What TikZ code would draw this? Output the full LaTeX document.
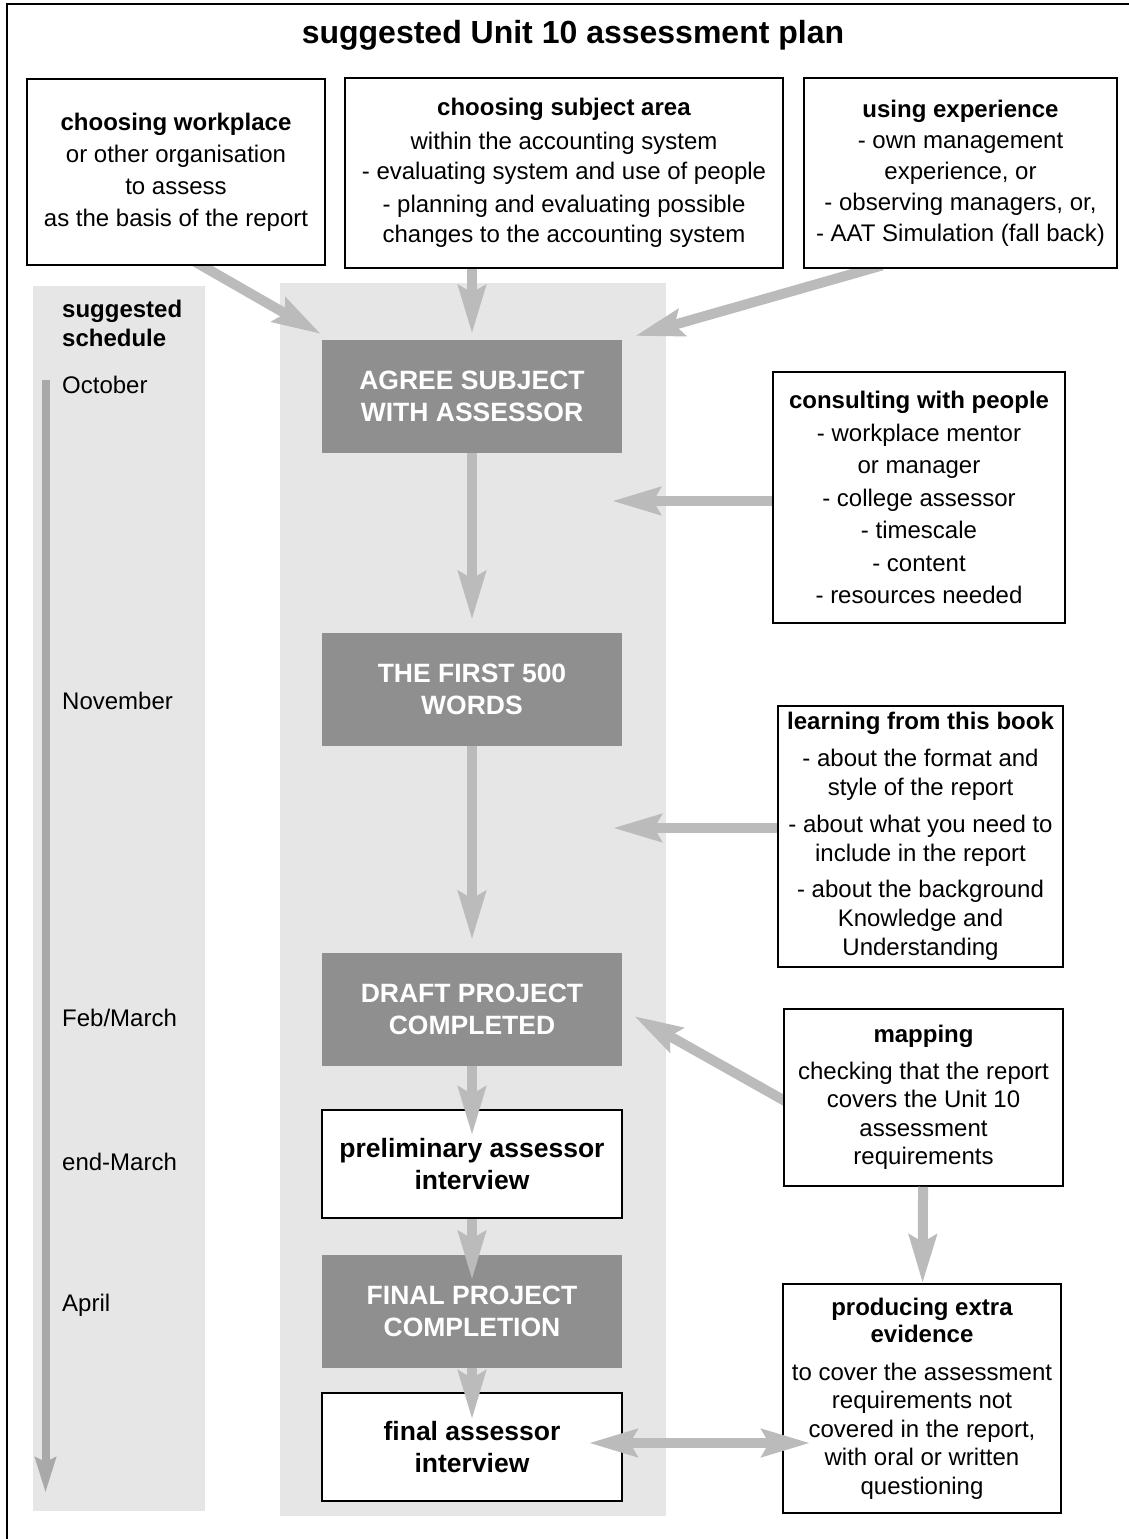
\documentclass[tikz,border=0pt]{standalone}
\usepackage{fontspec}
\setmainfont{Liberation Sans}
\usetikzlibrary{arrows.meta,calc}
\pgfdeclarelayer{back}
\pgfsetlayers{back,main}
\definecolor{panelgrey}{HTML}{E6E6E6}
\definecolor{stepgrey}{HTML}{8F8F8F}
\definecolor{arrowgrey}{HTML}{BBBBBB}
\definecolor{timegrey}{HTML}{A9A9A9}

\begin{document}
\begin{tikzpicture}[x=1pt, y=-1pt, font=\fontsize{24}{31}\selectfont,
		infobox/.style={draw=black, line width=1.5pt, fill=white, align=center, inner sep=0pt},
		stepbox/.style={fill=stepgrey, text=white, font=\fontsize{26.5}{32}\selectfont\bfseries, align=center, inner sep=0pt, minimum width=300pt, minimum height=113pt},
		talkbox/.style={stepbox, fill=white, text=black, draw=black, line width=1.5pt, minimum height=108pt},
		flow/.style={draw=arrowgrey, line width=10pt, -{Stealth[length=48pt, width=27pt, inset=7pt]}},
		both/.style={draw=arrowgrey, line width=10pt, {Stealth[length=48pt, width=27pt, inset=7pt]}-{Stealth[length=48pt, width=27pt, inset=7pt]}},
		month/.style={anchor=west, inner sep=0pt}]
		\def\cx{472}
		\useasboundingbox (0,0) rectangle (1128,1539);
		\draw[line width=1.5pt] (7,4) rectangle (1140,1560);
		\node[font=\fontsize{32}{38}\selectfont\bfseries, anchor=base, inner sep=0pt] (title) at (573,43) {suggested Unit 10 assessment plan};
		% grey columns
		\begin{pgfonlayer}{back}
			\fill[panelgrey] (33,286) rectangle (205,1511);
			\fill[panelgrey] (280,283) rectangle (666,1516);
		\end{pgfonlayer}
		% what goes in
		\node[infobox, minimum width=298pt, minimum height=186pt, font=\fontsize{24}{32}\selectfont] (work) at (176,172) {\textbf{choosing workplace}\\or other organisation\\to assess\\as the basis of the report};
		\node[infobox, minimum width=438pt, minimum height=190pt, font=\fontsize{24}{30}\selectfont] (subj) at (564,173) {\textbf{choosing subject area}\\[4pt]within the accounting system\\- evaluating system and use of people\\[3pt]- planning and evaluating possible\\changes to the accounting system};
		\node[infobox, minimum width=313pt, minimum height=190pt, font=\fontsize{24}{31}\selectfont] (exp) at (960.5,173) {\textbf{using experience}\\- own management\\experience, or\\- observing managers, or,\\- AAT Simulation (fall back)};
		\node[infobox, minimum width=292pt, minimum height=251pt, font=\fontsize{24}{32.5}\selectfont] (consult) at (919,497.5) {\textbf{consulting with people}\\- workplace mentor\\or manager\\- college assessor\\- timescale\\- content\\- resources needed};
		\node[infobox, minimum width=285pt, minimum height=261pt, font=\fontsize{24}{29}\selectfont] (learn) at (920.5,836.5) {\textbf{learning from this book}\\[8pt]- about the format and\\style of the report\\[8pt]- about what you need to\\include in the report\\[7pt]- about the background\\Knowledge and\\Understanding};
		\node[infobox, minimum width=279pt, minimum height=177pt, font=\fontsize{24}{28.5}\selectfont] (map) at (923.5,1097.5) {\textbf{mapping}\\[8pt]checking that the report\\covers the Unit 10\\assessment\\requirements};
		\node[infobox, minimum width=278pt, minimum height=229pt, font=\fontsize{24}{28.5}\selectfont] (prod) at (922,1398.5) {\textbf{producing extra}\\[-1pt]\textbf{evidence}\\[9pt]to cover the assessment\\requirements not\\covered in the report,\\with oral or written\\questioning};
		% main steps
		\node[stepbox] (agree) at (\cx,396.5) {AGREE SUBJECT\\WITH ASSESSOR};
		\node[stepbox] (first) at (\cx,689.5) {THE FIRST 500\\WORDS};
		\node[stepbox] (draft) at (\cx,1009.5) {DRAFT PROJECT\\COMPLETED};
		\node[talkbox] (prelim) at (\cx,1164) {preliminary assessor\\interview};
		\node[stepbox] (fproj) at (\cx,1311.5) {FINAL PROJECT\\COMPLETION};
		\node[talkbox] (fint) at (\cx,1447) {final assessor\\interview};
		% schedule
		\node[month, font=\fontsize{24}{29}\selectfont\bfseries, align=left] (sched) at (62,323) {suggested\\schedule};
		\node[month] (oct) at (62,385) {October};
		\node[month] (nov) at (62,701) {November};
		\node[month] (feb) at (62,1018) {Feb/March};
		\node[month] (endm) at (62,1162) {end-March};
		\node[month] (apr) at (62,1305) {April};
		\coordinate (t0) at (45.5,380);
		\coordinate (t1) at (45.5,1493);
		\draw[draw=timegrey, line width=8pt, -{Stealth[length=35pt, width=20pt, inset=4pt]}] (t0) -- (t1);
		% arrows into the plan
		\coordinate (in1) at (321,334);
		\coordinate (in3) at (635,336);
		\coordinate (c1) at (612,501);
		\coordinate (l1) at (613,828);
		\coordinate (m1) at (634,1016);
		\begin{pgfonlayer}{back}
			\draw[flow, shorten <=-12pt] ([xshift=26pt]work.south) -- (in1);
			\draw[flow, shorten <=-12pt] ([xshift=-90pt]exp.south) -- (in3);
			\draw[flow, shorten <=-12pt] ([yshift=-2.5pt]map.west) -- (m1);
		\end{pgfonlayer}
		\draw[flow, shorten >=6pt] (subj.south -| agree.north) -- (agree.north);
		\draw[flow] (consult.west |- c1) -- (c1);
		\draw[flow] (learn.west |- l1) -- (l1);
		% down the plan
		\draw[flow, shorten >=13pt] (agree) -- (first);
		\draw[flow, shorten >=13pt] (first) -- (draft);
		\draw[flow, shorten >=-26pt] (draft) -- (prelim);
		\draw[flow, shorten >=-25pt] (prelim) -- (fproj);
		\draw[flow, shorten >=-27pt] (fproj) -- (fint);
		\draw[flow] (map) -- (prod);
		\draw[both, shorten <=-34pt, shorten >=-28pt] ([yshift=4pt]fint.east) -- ([yshift=4pt]fint.east -| prod.west);
	\end{tikzpicture}
\end{document}
